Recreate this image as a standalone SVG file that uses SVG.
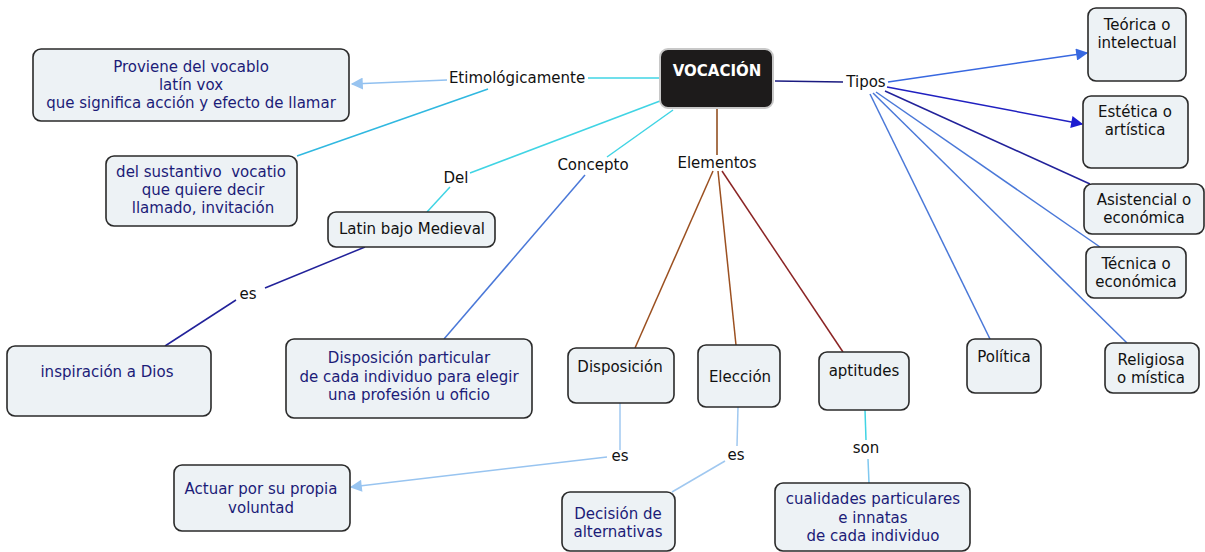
<svg xmlns="http://www.w3.org/2000/svg" width="1205" height="552" viewBox="0 0 1205 552">
<defs>
<style>
.n{fill:#edf2f5;stroke:#2a2a2a;stroke-width:1.6}
.t{font-family:"DejaVu Sans",Verdana,sans-serif;font-size:15px;text-anchor:middle}
.d{fill:#1c1c78}
.k{fill:#111}
.l{font-family:"DejaVu Sans",Verdana,sans-serif;font-size:15px;text-anchor:middle;fill:#111}
.c{fill:none;stroke-width:1.5}
</style>
<marker id="aB" viewBox="0 0 10 10" refX="9" refY="5" markerWidth="15" markerHeight="12" markerUnits="userSpaceOnUse" orient="auto"><path d="M0,0L10,5L0,10z" fill="#3868e0"/></marker>
<marker id="aN" viewBox="0 0 10 10" refX="9" refY="5" markerWidth="15" markerHeight="12" markerUnits="userSpaceOnUse" orient="auto"><path d="M0,0L10,5L0,10z" fill="#1c1cd0"/></marker>
<marker id="aS" viewBox="0 0 10 10" refX="9" refY="5" markerWidth="14" markerHeight="12" markerUnits="userSpaceOnUse" orient="auto"><path d="M0,0L10,5L0,10z" fill="#98c4f0"/></marker>
</defs>
<rect width="1205" height="552" fill="#fff"/>
<g id="connectors">
<line class="c" x1="660" y1="78" x2="588" y2="78" stroke="#40d4e4"/>
<line class="c" x1="447" y1="80" x2="352" y2="84" stroke="#90c0f0" marker-end="url(#aS)"/>
<line class="c" x1="488" y1="89" x2="297" y2="156" stroke="#30b8e0"/>
<line class="c" x1="660" y1="101" x2="470" y2="173" stroke="#40d4e4"/>
<line class="c" x1="450" y1="187" x2="427" y2="212" stroke="#40d4e4"/>
<line class="c" x1="673" y1="110" x2="607" y2="157" stroke="#40d4e4"/>
<line class="c" x1="585" y1="175" x2="444" y2="339" stroke="#4a78d8"/>
<line class="c" x1="717" y1="108" x2="717" y2="155" stroke="#8b4513"/>
<line class="c" x1="713" y1="171" x2="635" y2="348" stroke="#9b5020"/>
<line class="c" x1="718" y1="171" x2="736" y2="345" stroke="#9b5020"/>
<line class="c" x1="722" y1="171" x2="843" y2="352" stroke="#8b2525"/>
<line class="c" x1="775" y1="81" x2="843" y2="82" stroke="#1a1a80"/>
<line class="c" x1="888" y1="82" x2="1087" y2="53" stroke="#3868e0" marker-end="url(#aB)"/>
<line class="c" x1="887" y1="87" x2="1082" y2="124" stroke="#2020c0" marker-end="url(#aN)"/>
<line class="c" x1="885" y1="91" x2="1090" y2="184" stroke="#22229a"/>
<line class="c" x1="876" y1="92" x2="1100" y2="247" stroke="#4a78d8"/>
<line class="c" x1="870" y1="94" x2="990" y2="339" stroke="#4a78d8"/>
<line class="c" x1="873" y1="93" x2="1127" y2="343" stroke="#4a78d8"/>
<line class="c" x1="365" y1="247" x2="265" y2="288" stroke="#22229a"/>
<line class="c" x1="236" y1="300" x2="165" y2="346" stroke="#22229a"/>
<line class="c" x1="620" y1="403" x2="620" y2="450" stroke="#a0c8f0"/>
<line class="c" x1="607" y1="457" x2="351" y2="487" stroke="#98c4f0" marker-end="url(#aS)"/>
<line class="c" x1="738" y1="407" x2="737" y2="446" stroke="#a0c8f0"/>
<line class="c" x1="725" y1="461" x2="672" y2="492" stroke="#a0c8f0"/>
<line class="c" x1="865" y1="410" x2="866" y2="440" stroke="#40d4e4"/>
<line class="c" x1="868" y1="459" x2="869" y2="483" stroke="#80c8f0"/>
</g>
<g id="labels">
<text class="l" x="517" y="83">Etimológicamente</text>
<text class="l" x="866" y="87">Tipos</text>
<text class="l" x="456" y="183">Del</text>
<text class="l" x="593" y="170">Concepto</text>
<text class="l" x="717" y="168">Elementos</text>
<text class="l" x="248" y="299">es</text>
<text class="l" x="620" y="461">es</text>
<text class="l" x="736" y="460">es</text>
<text class="l" x="866" y="453">son</text>
</g>
<g id="vocacion">
<rect x="660" y="49" width="113" height="59" rx="8" fill="#1d1b1b" stroke="#c8c8c8" stroke-width="2"/>
<text class="t" x="717" y="76" fill="#fff" font-weight="bold">VOCACIÓN</text>
</g>
<g id="proviene">
<rect class="n" x="33" y="49" width="316" height="72" rx="8"/>
<text class="t d" x="191" y="72">Proviene del vocablo</text>
<text class="t d" x="191" y="90">latín vox</text>
<text class="t d" x="191" y="108">que significa acción y efecto de llamar</text>
</g>
<g id="sustantivo">
<rect class="n" x="106" y="156" width="191" height="70" rx="8"/>
<text class="t d" x="201" y="177" style="white-space:pre">del sustantivo  vocatio</text>
<text class="t d" x="203" y="195">que quiere decir</text>
<text class="t d" x="203" y="213">llamado, invitación</text>
</g>
<g id="latin">
<rect class="n" x="328" y="212" width="167" height="35" rx="8"/>
<text class="t k" x="412" y="234">Latin bajo Medieval</text>
</g>
<g id="inspiracion">
<rect class="n" x="7" y="346" width="204" height="70" rx="8"/>
<text class="t d" x="107" y="377">inspiración a Dios</text>
</g>
<g id="disposicion-particular">
<rect class="n" x="286" y="339" width="246" height="79" rx="8"/>
<text class="t d" x="409" y="363">Disposición particular</text>
<text class="t d" x="409" y="382">de cada individuo para elegir</text>
<text class="t d" x="409" y="400">una profesión u oficio</text>
</g>
<g id="disposicion">
<rect class="n" x="568" y="348" width="106" height="55" rx="8"/>
<text class="t k" x="620" y="372">Disposición</text>
</g>
<g id="eleccion">
<rect class="n" x="698" y="345" width="82" height="62" rx="8"/>
<text class="t k" x="740" y="382">Elección</text>
</g>
<g id="aptitudes">
<rect class="n" x="819" y="352" width="90" height="58" rx="8"/>
<text class="t k" x="864" y="376">aptitudes</text>
</g>
<g id="politica">
<rect class="n" x="967" y="339" width="74" height="54" rx="8"/>
<text class="t k" x="1004" y="362">Política</text>
</g>
<g id="religiosa">
<rect class="n" x="1105" y="343" width="94" height="50" rx="8"/>
<text class="t k" x="1151" y="365">Religiosa</text>
<text class="t k" x="1151" y="383">o mística</text>
</g>
<g id="teorica">
<rect class="n" x="1088" y="8" width="98" height="73" rx="8"/>
<text class="t k" x="1137" y="30">Teórica o</text>
<text class="t k" x="1137" y="48">intelectual</text>
</g>
<g id="estetica">
<rect class="n" x="1083" y="96" width="105" height="72" rx="8"/>
<text class="t k" x="1135" y="117">Estética o</text>
<text class="t k" x="1135" y="135">artística</text>
</g>
<g id="asistencial">
<rect class="n" x="1084" y="184" width="120" height="50" rx="8"/>
<text class="t k" x="1144" y="205">Asistencial o</text>
<text class="t k" x="1144" y="223">económica</text>
</g>
<g id="tecnica">
<rect class="n" x="1086" y="247" width="100" height="51" rx="8"/>
<text class="t k" x="1136" y="269">Técnica o</text>
<text class="t k" x="1136" y="287">económica</text>
</g>
<g id="actuar">
<rect class="n" x="174" y="465" width="176" height="66" rx="8"/>
<text class="t d" x="261" y="494">Actuar por su propia</text>
<text class="t d" x="261" y="513">voluntad</text>
</g>
<g id="decision">
<rect class="n" x="562" y="492" width="113" height="59" rx="8"/>
<text class="t d" x="618" y="519">Decisión de</text>
<text class="t d" x="618" y="537">alternativas</text>
</g>
<g id="cualidades">
<rect class="n" x="775" y="483" width="195" height="68" rx="8"/>
<text class="t d" x="873" y="504">cualidades particulares</text>
<text class="t d" x="873" y="523">e innatas</text>
<text class="t d" x="873" y="541">de cada individuo</text>
</g>
</svg>
